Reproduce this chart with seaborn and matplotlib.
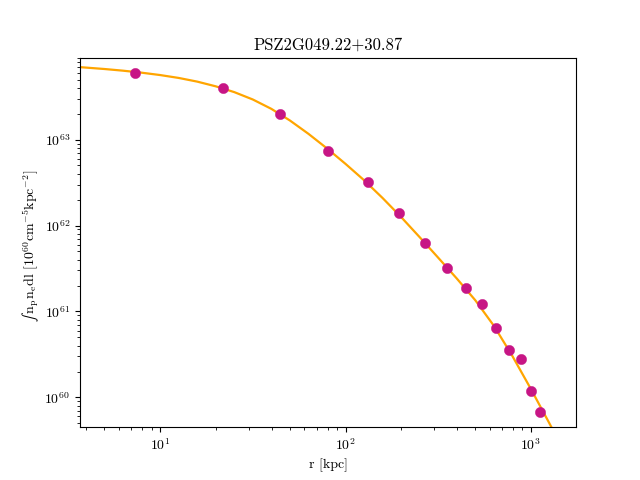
import numpy as np
import seaborn as sns
import matplotlib
matplotlib.use('Agg')
import matplotlib.pyplot as plt

# profile points (r in kpc, integrated emission measure)
r_pts = [7.35, 21.9, 44.2, 80.9, 131.5, 194, 268, 353, 447, 548, 647, 764, 883, 1000, 1122]
em_pts = [6.0e63, 3.95e63, 2.0e63, 7.45e62, 3.25e62, 1.41e62, 6.3e61, 3.22e61,
          1.89e61, 1.23e61, 6.46e60, 3.59e60, 2.77e60, 1.20e60, 6.8e59]

# model curve
r_line = [3.50, 3.70, 5.01, 6.31, 7.94, 10.0, 12.59, 15.85, 19.95, 25.12, 31.62, 39.81,
          50.12, 63.10, 79.43, 100, 125.9, 158.5, 199.5, 251.2, 316.2, 398.1, 501.2,
          631.0, 794.3, 1000, 1259, 1445]
em_line = [7.03e63, 6.97e63, 6.63e63, 6.34e63, 6.01e63, 5.64e63, 5.22e63, 4.73e63,
           4.17e63, 3.57e63, 2.93e63, 2.28e63, 1.67e63, 1.168e63, 7.90e62, 5.22e62,
           3.37e62, 2.09e62, 1.255e62, 7.32e61, 4.22e61, 2.42e61, 1.35e61, 6.82e60,
           3.03e60, 1.25e60, 4.97e59, 2.82e59]

plt.rcParams['font.family'] = 'serif'
plt.rcParams['font.serif'] = ['cmr10', 'DejaVu Serif']
plt.rcParams['mathtext.fontset'] = 'cm'
plt.rcParams['mathtext.fallback'] = 'stix'
plt.rcParams['axes.formatter.use_mathtext'] = True

fig, ax = plt.subplots(figsize=(6.4, 4.8), dpi=100)

sns.lineplot(x=r_line, y=em_line, color='orange', linewidth=1.6, ax=ax, zorder=2)
sns.scatterplot(x=r_pts, y=em_pts, color='mediumvioletred', s=55, edgecolor='mediumvioletred',
                linewidth=0.3, ax=ax, zorder=3)

ax.set_xscale('log')
ax.set_yscale('log')
ax.set_xlim(3.7, 1750)
ax.set_ylim(4.5e59, 9.0e63)

ax.set_title('PSZ2G049.22+30.87')
ax.set_xlabel('r [kpc]')
ax.set_ylabel('$\u222b\\,\\mathrm{n_p n_e dl}\\ [10^{60} \\mathrm{cm^{-5} kpc^{-2}}]$')
ax.yaxis.set_label_coords(-0.078, 0.49)

fig.savefig('out.png', dpi=100)
